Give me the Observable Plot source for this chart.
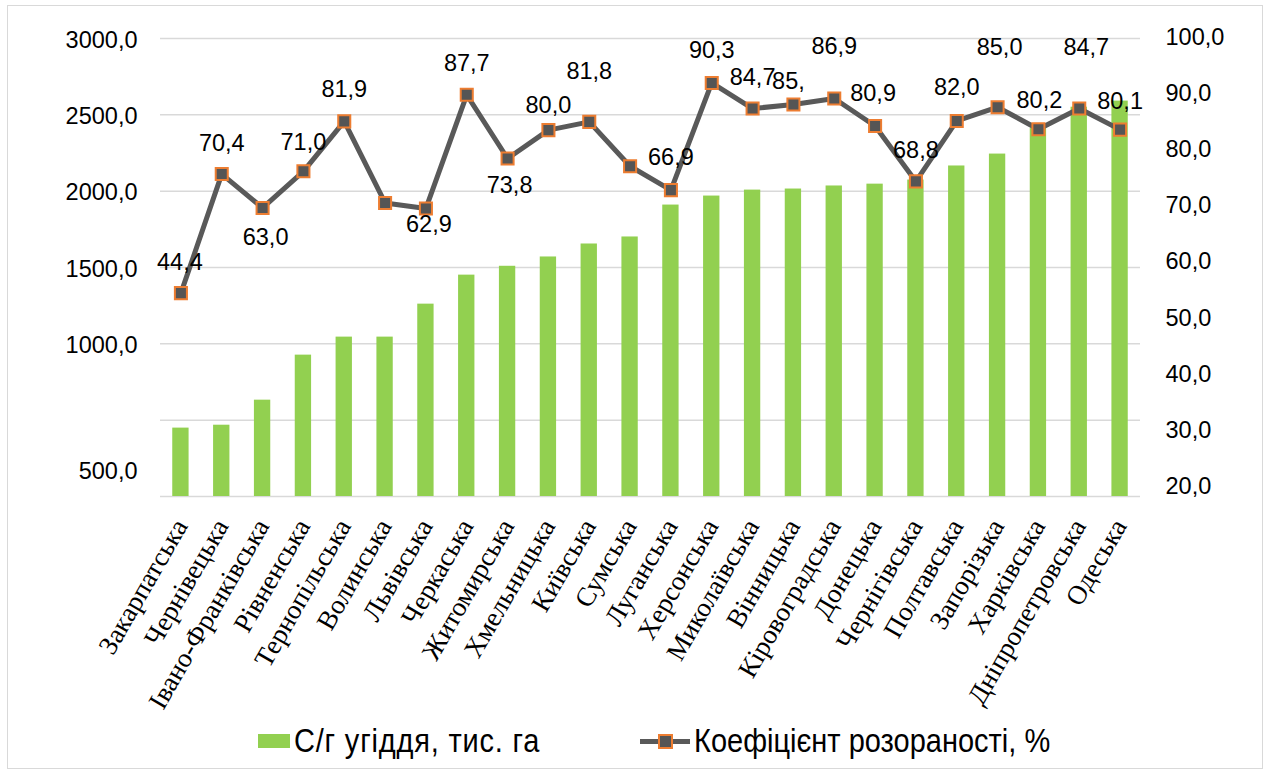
<!DOCTYPE html>
<html>
<head>
<meta charset="utf-8">
<script src="https://cdn.jsdelivr.net/npm/d3@7"></script>
<script src="https://cdn.jsdelivr.net/npm/@observablehq/plot@0.6"></script>
<style>
  html, body { margin: 0; padding: 0; background: #fff; }
  #wrap { position: relative; width: 1269px; height: 774px; overflow: hidden; background: #fff; }
  #frame { position: absolute; left: 7px; top: 5px; width: 1256px; height: 764px; border: 1.5px solid #d9d9d9; box-sizing: border-box; pointer-events: none; }
  #chart { position: absolute; left: 0; top: 0; }
  #legend { position: absolute; left: 0; top: 721px; width: 1269px; height: 40px; font-family: "Liberation Sans", Arial, sans-serif; font-size: 29px; color: #000; }
  .item { position: absolute; top: 0; height: 40px; display: flex; align-items: center; white-space: nowrap; }
  .swatch { display: inline-block; width: 32px; height: 14px; background: #92D050; margin-right: 4px; }
  .linesym { position: relative; display: inline-block; width: 50px; height: 14px; margin-right: 4px; }
  .linesym::before { content: ""; position: absolute; left: 0; right: 0; top: 5px; height: 5px; background: #595959; }
  .linesym::after { content: ""; position: absolute; left: 18px; top: 0; width: 11px; height: 11px; background: #555; border: 2px solid #ED7D31; }
  .t1 { display: inline-block; transform: scaleY(1.12); letter-spacing: 0.8px; }
  .t2 { display: inline-block; transform: scaleY(1.12); }
</style>
</head>
<body>
<div id="wrap">
  <div id="chart"></div>
  <div id="legend">
    <div class="item" style="left:258px"><span class="swatch"></span><span class="t1">С/г угіддя, тис. га</span></div>
    <div class="item" style="left:640px"><span class="linesym"></span><span class="t2">Коефіцієнт розораності, %</span></div>
  </div>
  <div id="frame"></div>
</div>
<script>
// ---- data ----
const regions = ["Закарпатська","Чернівецька","Івано-Франківська","Рівненська","Тернопільська","Волинська","Львівська","Черкаська","Житомирська","Хмельницька","Київська","Сумська","Луганська","Херсонська","Миколаївська","Вінницька","Кіровоградська","Донецька","Чернігівська","Полтавська","Запорізька","Харківська","Дніпропетровська","Одеська"];
const land = [448, 467, 631, 926, 1044, 1044, 1260, 1450, 1508, 1569, 1654, 1700, 1909, 1968, 2007, 2014, 2034, 2046, 2073, 2165, 2243, 2410, 2550, 2590];
const ratio = [44.4, 70.4, 63.0, 71.0, 81.9, 64.1, 62.9, 87.7, 73.8, 80.0, 81.8, 72.1, 66.9, 90.3, 84.7, 85.6, 86.9, 80.9, 68.8, 82.0, 85.0, 80.2, 84.7, 80.1];
const ratioLabels = ["44,4","70,4","63,0","71,0","81,9","","62,9","87,7","73,8","80,0","81,8","","66,9","90,3","84,7","85,","86,9","80,9","68,8","82,0","85,0","80,2","84,7","80,1"];
const leftTickValues = [500, 1000, 1500, 2000, 2500, 3000];
const leftTickLabels = ["500,0","1000,0","1500,0","2000,0","2500,0","3000,0"];
const rightTickValues = [20, 30, 40, 50, 60, 70, 80, 90, 100];
const rightTickLabels = ["20,0","30,0","40,0","50,0","60,0","70,0","80,0","90,0","100,0"];

// ---- layout / style ----
const yMax = 3000;               // left axis maximum
const ratioToLeft = yMax / 100;  // the line shares the same vertical extent (0–100)
// label offsets (px) relative to each marker
const labelDx = [-1,0,3,0,0,0,3,0,2,0,0,0,0,0,0,-5,0,-2,0,0,2,1,7,0];
const labelDy = [-31,-31,30,-29,-32,0,16,-31,27,-25,-50,0,-33,-32,-31,-23,-52,-33,-31,-33,-60,-29,-61,-28];
// quirky placement of the printed axis labels
const leftLabelAt = v => v === 500 ? 175 : v;
const rightLabelScale = d3.scaleLinear().domain([20, 100]).range([64, 3010]);

const rows = regions.map((r, i) => ({region: r, land: land[i], ratio: ratio[i], label: ratioLabels[i], i}));
const grid = d3.range(0, yMax + 1, 500);
const numFont = "Liberation Sans, Arial, sans-serif";

const chart = Plot.plot({
  width: 1269,
  height: 700,
  marginLeft: 160,
  marginRight: 129,
  marginTop: 38,
  marginBottom: 204,
  style: {background: "transparent", overflow: "visible"},
  x: {domain: regions, paddingInner: 0.6, paddingOuter: 0.3, round: false, axis: null},
  y: {domain: [0, yMax], axis: null},
  marks: [
    Plot.ruleY(grid, {stroke: "#d9d9d9", strokeWidth: 1.5}),
    Plot.barY(rows, {x: "region", y: "land", fill: "#92D050"}),
    Plot.lineY(rows, {x: "region", y: d => d.ratio * ratioToLeft, stroke: "#595959", strokeWidth: 5}),
    Plot.dot(rows, {x: "region", y: d => d.ratio * ratioToLeft, symbol: "square", r: 6.8, fill: "#555", stroke: "#ED7D31", strokeWidth: 2}),
    Plot.text(rows.filter(d => d.label), {
      x: "region", y: d => d.ratio * ratioToLeft, text: "label",
      fontFamily: numFont, fontSize: 23.5, fill: "#000", lineAnchor: "middle"
    }),
    // left axis labels
    Plot.text(leftTickValues, {
      y: d => leftLabelAt(d), text: (d, i) => leftTickLabels[i], frameAnchor: "left",
      dx: -23, textAnchor: "end", lineAnchor: "middle", dy: 1.5,
      fontFamily: numFont, fontSize: 23.5, fill: "#000"
    }),
    // right axis labels
    Plot.text(rightTickValues, {
      y: d => rightLabelScale(d), text: (d, i) => rightTickLabels[i], frameAnchor: "right",
      dx: 25, textAnchor: "start", lineAnchor: "middle",
      fontFamily: numFont, fontSize: 23.5, fill: "#000"
    }),
    // category labels
    Plot.text(regions, {
      x: d => d, text: d => d, frameAnchor: "bottom",
      rotate: -60, textAnchor: "end", lineAnchor: "middle", dx: 0, dy: 25,
      fontFamily: "Liberation Serif, Times New Roman, serif", fontSize: 27, fill: "#000"
    })
  ]
});
document.getElementById("chart").appendChild(chart);

// apply per-label offsets to data labels (style adjustment)
const labelled = rows.filter(d => d.label);
const textGroups = chart.querySelectorAll("g[aria-label='text']");
const dataLabels = textGroups[0].querySelectorAll("text");
dataLabels.forEach((t, k) => {
  const d = labelled[k];
  const prev = t.getAttribute("transform");
  t.setAttribute("transform", `translate(${labelDx[d.i]},${labelDy[d.i]})` + (prev ? " " + prev : ""));
});
</script>
</body>
</html>
